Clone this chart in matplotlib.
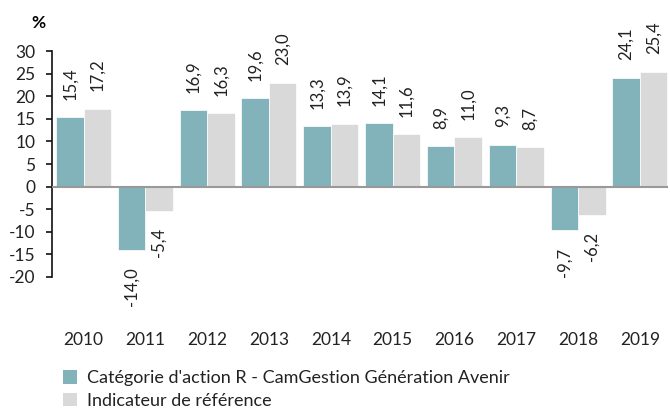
import matplotlib
matplotlib.use("Agg")
import matplotlib.pyplot as plt
from matplotlib.patches import Patch
from matplotlib.transforms import blended_transform_factory

plt.rcParams['font.family'] = ['Lato', 'DejaVu Sans']
plt.rcParams['axes.unicode_minus'] = False

years = ["2010", "2011", "2012", "2013", "2014", "2015", "2016", "2017", "2018", "2019"]
fund = [15.4, -14.0, 16.9, 19.6, 13.3, 14.1, 8.9, 9.3, -9.7, 24.1]
bench = [17.2, -5.4, 16.3, 23.0, 13.9, 11.6, 11.0, 8.7, -6.2, 25.4]
labels = ["Catégorie d'action R - CamGestion Génération Avenir", "Indicateur de référence"]
teal = "#82B3BA"
grey = "#D9D9D9"
txt = "#222222"

fig = plt.figure(figsize=(6.7, 4.13), dpi=100)
ax = fig.add_axes([0.0776, 0.3293, 0.919, 0.5472])

w = 0.445
x = list(range(len(years)))
ax.bar([i - w / 2 for i in x], fund, width=w, color=teal, edgecolor="white", linewidth=0.5)
ax.bar([i + w / 2 for i in x], bench, width=w, color=grey, edgecolor="white", linewidth=0.5)

def fmt(v):
    return f"{v:.1f}".replace(".", ",")

for series, off in ((fund, -w / 2), (bench, w / 2)):
    for i, v in enumerate(series):
        if v >= 0:
            ax.annotate(fmt(v), (i + off, v), xytext=(0, 12.5), textcoords="offset points",
                        rotation=90, ha="center", va="bottom", fontsize=12, color=txt)
        else:
            ax.annotate(fmt(v), (i + off, v), xytext=(0, -12.5), textcoords="offset points",
                        rotation=90, ha="center", va="top", fontsize=12, color=txt)

ax.set_ylim(-20, 30)
ax.set_xlim(-0.51, 9.45)
ax.set_yticks(range(-20, 31, 5))
ax.tick_params(axis="y", labelsize=12.5, length=4, width=1.2, colors="#111111",
               labelcolor=txt, pad=8)
ax.set_xticks([])
for s in ("top", "right", "bottom"):
    ax.spines[s].set_visible(False)
ax.spines["left"].set_linewidth(1.2)
ax.spines["left"].set_color("#111111")
ax.axhline(0, color="#999999", linewidth=1.5, zorder=3)

trans = blended_transform_factory(ax.transData, ax.transAxes)
for i, y in enumerate(years):
    ax.text(i, -0.279, y, transform=trans, ha="center", va="center", fontsize=12.5, color=txt)

fig.text(38 / 670, 1 - 23 / 413, "%", fontsize=12.5, fontweight="bold", ha="center", va="center")

handles = [Patch(facecolor=teal, edgecolor="none"), Patch(facecolor=grey, edgecolor="none")]
fig.legend(handles, labels, loc="upper left", bbox_to_anchor=(63 / 670, 1 - 370 / 413), frameon=False,
           fontsize=13, handlelength=0.8, handleheight=0.8, handletextpad=0.55,
           labelspacing=0.35, borderpad=0, borderaxespad=0, labelcolor=txt)

fig.savefig("out.png", dpi=100)
